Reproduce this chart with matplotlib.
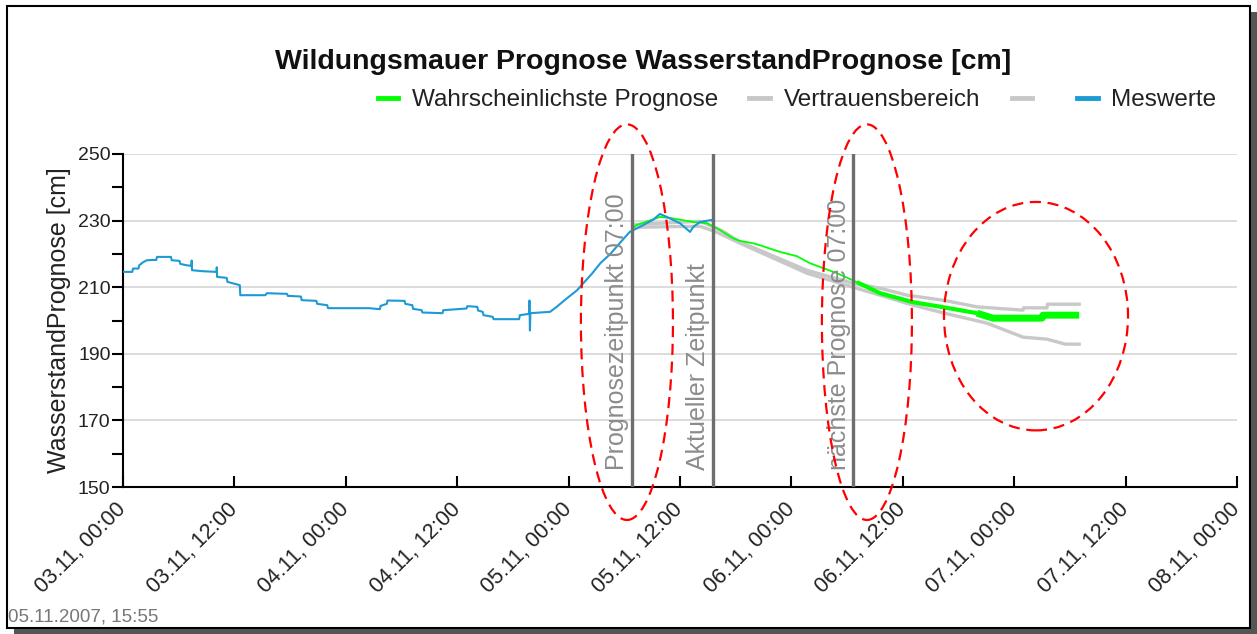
import matplotlib
matplotlib.use("Agg")
import matplotlib.pyplot as plt
import matplotlib.dates as mdates
from matplotlib.patches import Ellipse, Rectangle
from matplotlib.lines import Line2D
import pandas as pd

plt.rcParams['font.family'] = ['Liberation Sans', 'DejaVu Sans']

W, H = 1257, 634

# Messwerte (blau)
mess_zeit = [
    "2007-11-03 00:00", "2007-11-03 01:00", "2007-11-03 01:05", "2007-11-03 01:40", "2007-11-03 01:45",
    "2007-11-03 02:10", "2007-11-03 02:35", "2007-11-03 03:35", "2007-11-03 03:40", "2007-11-03 05:10",
    "2007-11-03 05:15", "2007-11-03 06:05", "2007-11-03 06:10", "2007-11-03 06:50", "2007-11-03 07:22",
    "2007-11-03 07:24", "2007-11-03 07:26", "2007-11-03 08:35", "2007-11-03 10:05", "2007-11-03 10:06",
    "2007-11-03 10:08", "2007-11-03 11:10", "2007-11-03 11:15", "2007-11-03 12:20", "2007-11-03 12:35",
    "2007-11-03 12:38", "2007-11-03 15:20", "2007-11-03 15:30", "2007-11-03 17:40", "2007-11-03 17:45",
    "2007-11-03 19:10", "2007-11-03 19:15", "2007-11-03 20:50", "2007-11-03 20:55", "2007-11-03 22:00",
    "2007-11-03 22:05", "2007-11-04 02:30", "2007-11-04 03:40", "2007-11-04 03:45", "2007-11-04 04:25",
    "2007-11-04 04:30", "2007-11-04 06:20", "2007-11-04 06:25", "2007-11-04 07:10", "2007-11-04 07:15",
    "2007-11-04 08:10", "2007-11-04 08:15", "2007-11-04 10:25", "2007-11-04 10:30", "2007-11-04 13:00",
    "2007-11-04 13:05", "2007-11-04 14:10", "2007-11-04 14:15", "2007-11-04 14:45", "2007-11-04 14:50",
    "2007-11-04 15:50", "2007-11-04 15:55", "2007-11-04 18:40", "2007-11-04 18:45", "2007-11-04 19:45",
    "2007-11-04 19:47", "2007-11-04 19:50", "2007-11-04 19:53", "2007-11-04 22:00", "2007-11-04 22:40",
    "2007-11-04 23:50", "2007-11-05 00:55", "2007-11-05 01:35", "2007-11-05 02:30", "2007-11-05 03:25",
    "2007-11-05 04:30", "2007-11-05 05:30", "2007-11-05 06:35", "2007-11-05 07:40", "2007-11-05 09:05",
    "2007-11-05 09:50", "2007-11-05 10:35", "2007-11-05 12:00", "2007-11-05 13:05", "2007-11-05 13:25",
    "2007-11-05 14:10", "2007-11-05 15:25", "2007-11-05 15:33",
]
mess_wert = [
    214.6, 214.6, 215.6, 215.6, 216.6,
    217.5, 218.1, 218.2, 219.1, 219.1,
    218.1, 217.9, 217.0, 216.6, 216.4,
    218.0, 215.1, 214.8, 214.6, 216.0,
    213.1, 212.8, 211.6, 210.8, 210.6,
    207.6, 207.6, 208.2, 208.0, 207.4,
    207.2, 206.1, 205.9, 205.0, 204.6,
    203.7, 203.7, 203.4, 204.4, 205.0,
    206.0, 205.9, 205.0, 204.6, 203.5,
    203.1, 202.4, 202.2, 203.1, 203.6,
    204.3, 204.1, 203.0, 202.6, 201.6,
    201.1, 200.4, 200.4, 201.6, 202.0,
    206.0, 197.0, 202.2, 202.6, 204.0,
    206.7, 209.1, 211.2, 214.0, 217.2,
    220.0, 223.2, 226.6, 228.1, 230.2,
    232.0, 231.1, 229.2, 226.6, 228.1,
    229.6, 230.2, 229.5,
]

# Wahrscheinlichste Prognose (gruen)
prog_zeit = [
    "2007-11-05 07:00", "2007-11-05 07:16", "2007-11-05 09:51", "2007-11-05 10:55", "2007-11-05 13:24",
    "2007-11-05 14:55", "2007-11-05 15:59", "2007-11-05 17:43", "2007-11-05 18:28", "2007-11-05 19:52",
    "2007-11-05 20:37", "2007-11-05 22:46", "2007-11-06 00:36", "2007-11-06 02:00", "2007-11-06 04:55",
    "2007-11-06 07:04", "2007-11-06 09:33", "2007-11-06 13:06", "2007-11-06 16:20", "2007-11-06 19:59",
    "2007-11-06 21:43", "2007-11-07 03:00", "2007-11-07 03:06", "2007-11-07 07:00",
]
prog_wert = [
    228.0, 228.6, 231.1, 230.8, 229.6,
    229.2, 227.7, 224.7, 223.9, 223.2,
    222.6, 220.6, 219.3, 217.2, 214.2,
    211.5, 208.2, 205.5, 204.0, 202.2,
    200.7, 200.7, 201.6, 201.6,
]
prog_dick_ab = "2007-11-06 07:04"    # ab hier dicker gezeichnet
prog_sehr_dick_ab = "2007-11-06 19:59"

# Vertrauensbereich (grau)
vb_oben_zeit = [
    "2007-11-05 07:00", "2007-11-05 14:09", "2007-11-05 16:30", "2007-11-05 18:28", "2007-11-06 01:39",
    "2007-11-06 06:38", "2007-11-06 09:33", "2007-11-06 12:28", "2007-11-06 16:20", "2007-11-06 19:59",
    "2007-11-07 00:57", "2007-11-07 01:00", "2007-11-07 03:32", "2007-11-07 03:35", "2007-11-07 07:00",
]
vb_oben_wert = [228.8, 229.8, 227.0, 223.6, 215.1, 211.2, 209.7, 207.6, 206.1, 204.1,
                203.1, 203.8, 203.8, 204.9, 204.9]
vb_unten_zeit = [
    "2007-11-05 07:00", "2007-11-05 14:09", "2007-11-05 15:59", "2007-11-05 18:28", "2007-11-06 01:41",
    "2007-11-06 06:38", "2007-11-06 09:33", "2007-11-06 13:06", "2007-11-06 16:20", "2007-11-06 21:04",
    "2007-11-07 00:57", "2007-11-07 03:32", "2007-11-07 05:30", "2007-11-07 07:00",
]
vb_unten_wert = [228.0, 228.3, 226.5, 223.2, 214.2, 210.0, 207.6, 204.6, 202.3, 199.2, 195.0, 194.4, 192.9, 192.9]

# Markierungen
marker_zeit = ["2007-11-05 06:50", "2007-11-05 15:35", "2007-11-06 06:40"]
marker_text = ["Prognosezeitpunkt 07:00", "Aktueller Zeitpunkt", "nächste Prognose 07:00"]

# rote Ellipsen: Mitte (Zeit, cm), Breite (Tage), Hoehe (cm)
ellipse_mitte = [("2007-11-05 06:17", 199.5), ("2007-11-06 08:08", 199.5), ("2007-11-07 02:21", 201.3)]
ellipse_breite = [0.413, 0.404, 0.826]
ellipse_hoehe = [118.8, 118.8, 68.6]

legende_text = ["Wahrscheinlichste Prognose", "Vertrauensbereich", "", "Meswerte"]

BLAU = "#1c9ad6"
GRUEN = "#00ff00"
GRAU = "#c8c8c8"


def fx(x):
    return x / W


def fy(y):
    return 1 - y / H


t_mess = pd.to_datetime(mess_zeit)
t_prog = pd.to_datetime(prog_zeit)
t_oben = pd.to_datetime(vb_oben_zeit)
t_unten = pd.to_datetime(vb_unten_zeit)

fig = plt.figure(figsize=(W / 100, H / 100), dpi=100)
ax = fig.add_axes([fx(123), fy(487), fx(1237) - fx(123), fy(154) - fy(487)])

# Vertrauensbereich
ax.plot(t_oben, vb_oben_wert, color=GRAU, lw=2.4, zorder=2)
ax.plot(t_unten, vb_unten_wert, color=GRAU, lw=2.4, zorder=2)

# Prognose, zum Ende hin dicker
i1 = list(prog_zeit).index(prog_dick_ab)
i2 = list(prog_zeit).index(prog_sehr_dick_ab)
ax.plot(t_prog[:i1 + 1], prog_wert[:i1 + 1], color=GRUEN, lw=1.3, zorder=3)
ax.plot(t_prog[i1:i2 + 1], prog_wert[i1:i2 + 1], color=GRUEN, lw=3.0, zorder=3, solid_capstyle="butt")
ax.plot(t_prog[i2:], prog_wert[i2:], color=GRUEN, lw=5.0, zorder=3, solid_capstyle="butt")

# Messwerte
ax.plot(t_mess, mess_wert, color=BLAU, lw=1.5, zorder=4)

# senkrechte Linien mit Beschriftung
for z, txt in zip(pd.to_datetime(marker_zeit), marker_text):
    ax.axvline(z, color="#6e6e6e", lw=2.4, zorder=5)
    ax.annotate(txt, xy=(z, 155), xytext=(-2, 0), textcoords="offset points",
                rotation=90, ha="right", va="bottom", color="#8c8c8c", fontsize=18, zorder=6)

# rote gestrichelte Ellipsen
for (z, y), b, h in zip(ellipse_mitte, ellipse_breite, ellipse_hoehe):
    e = Ellipse((mdates.date2num(pd.Timestamp(z)), y), b, h, fill=False, ec="#ff0000",
                lw=1.6, ls=(0, (5, 3)), clip_on=False, zorder=7)
    ax.add_patch(e)

ax.set_xlim(pd.Timestamp("2007-11-03 00:00"), pd.Timestamp("2007-11-08 00:00"))
ax.set_ylim(150, 250)
ax.set_yticks([150, 170, 190, 210, 230, 250])
ax.set_yticks([160, 180, 200, 220, 240], minor=True)
ax.xaxis.set_major_locator(mdates.HourLocator(byhour=[0, 12]))
ax.xaxis.set_major_formatter(mdates.DateFormatter("%d.%m, %H:%M"))
ax.grid(axis="y", which="major", color="#d9d9d9", lw=1.3, zorder=0)
ax.set_axisbelow(True)

for s in ["top", "right"]:
    ax.spines[s].set_visible(False)
for s in ["left", "bottom"]:
    ax.spines[s].set_linewidth(1.5)
ax.tick_params(axis="y", which="both", direction="out", length=8, width=1.5, labelsize=14, pad=1, labelcolor="#222222")
ax.tick_params(axis="x", which="major", direction="in", length=8, width=1.5, labelsize=15.5, pad=14, labelcolor="#222222")
for lab in ax.get_xticklabels():
    lab.set_rotation(45)
    lab.set_ha("right")
    lab.set_va("center")
    lab.set_rotation_mode("anchor")

ax.set_ylabel("WasserstandPrognose [cm]", fontsize=18, color="#222222", labelpad=5)

fig.text(fx(643), fy(62), "Wildungsmauer Prognose WasserstandPrognose [cm]",
         ha="center", va="center", fontsize=20.5, fontweight="bold", color="#111111")

handles = [Line2D([], [], color=GRUEN, lw=3.5), Line2D([], [], color=GRAU, lw=3.5),
           Line2D([], [], color=GRAU, lw=3.5), Line2D([], [], color=BLAU, lw=3.5)]
fig.legend(handles, legende_text, loc="center right", bbox_to_anchor=(fx(1226), fy(100)),
           ncol=4, frameon=False, fontsize=17.5, handlelength=0.85, handletextpad=0.55,
           columnspacing=1.3, labelcolor="#222222", borderaxespad=0)

fig.text(fx(8), fy(617), "05.11.2007, 15:55", ha="left", va="center", fontsize=13.5, color="#777777")

# Rahmen mit Schatten
fig.patches.append(Rectangle((fx(7), fy(628)), fx(1250) - fx(7), fy(6) - fy(628),
                             transform=fig.transFigure, fill=False, ec="black", lw=1.5))
fig.patches.append(Rectangle((fx(14), fy(634)), fx(1257) - fx(14), fy(629) - fy(634),
                             transform=fig.transFigure, fc="#555555", ec="none"))
fig.patches.append(Rectangle((fx(1251), fy(634)), fx(1257) - fx(1251), fy(12) - fy(634),
                             transform=fig.transFigure, fc="#555555", ec="none"))

fig.savefig("out.png", dpi=100)
